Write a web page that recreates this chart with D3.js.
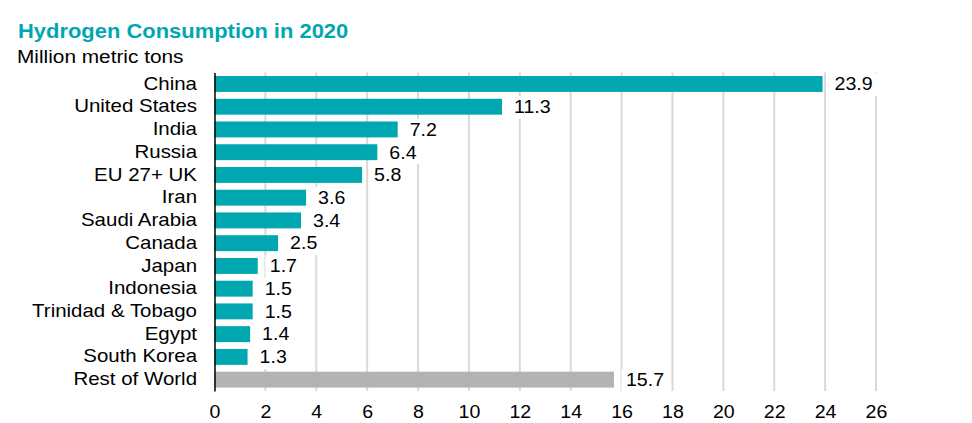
<!DOCTYPE html>
<html><head><meta charset="utf-8">
<script src="https://cdn.jsdelivr.net/npm/d3@7"></script>
<style>body{margin:0;background:#fff}svg{display:block;font-family:"Liberation Sans",Arial,sans-serif}</style>
</head><body>
<script>
const categories = ["China","United States","India","Russia","EU 27+ UK","Iran","Saudi Arabia","Canada","Japan","Indonesia","Trinidad & Tobago","Egypt","South Korea","Rest of World"];
const values = [23.9,11.3,7.2,6.4,5.8,3.6,3.4,2.5,1.7,1.5,1.5,1.4,1.3,15.7];
const tickValues = [0,2,4,6,8,10,12,14,16,18,20,22,24,26];
const title = "Hydrogen Consumption in 2020";
const subtitle = "Million metric tons";

const W=972,H=423;
const FS=17.5, SX=1.17, SXN=1.12;
const svg=d3.select("body").append("svg").attr("width",W).attr("height",H);
const x=d3.scaleLinear().domain([0,26]).range([214.5,876]);
const y=d3.scaleBand().domain(categories).range([72.6,391]).paddingInner(0.3).paddingOuter(0.15);

svg.append("text").attr("transform","translate(18,37.5) scale(1.125,1)").attr("fill","#00a7b1").attr("font-weight","bold").attr("font-size",19.5).text(title);
svg.append("text").attr("transform",`translate(17,62.5) scale(1.19,1)`).attr("fill","#000").attr("font-size",17.5).text(subtitle);

// gridlines
svg.append("g").selectAll("line").data(tickValues.filter(d=>d>0)).join("line")
 .attr("x1",d=>x(d)).attr("x2",d=>x(d)).attr("y1",72.6).attr("y2",391)
 .attr("stroke","#d9d9d9").attr("stroke-width",2);

// bars
svg.append("g").selectAll("rect").data(categories).join("rect")
 .attr("x",x(0)).attr("y",d=>y(d)).attr("height",y.bandwidth())
 .attr("width",(d,i)=>x(values[i])-x(0))
 .attr("fill",d=>d==="Rest of World"?"#b3b3b3":"#00a7b1");

// value labels with white background
const lg=svg.append("g").selectAll("g").data(categories).join("g")
 .attr("transform",(d,i)=>`translate(${x(values[i])+12},${y(d)+y.bandwidth()/2}) scale(${SXN},1)`);
lg.append("text").attr("dy","0.36em").attr("font-size",FS).attr("fill","#000")
 .text((d,i)=>values[i].toFixed(1));
lg.each(function(){const g=d3.select(this);const b=g.select("text").node().getBBox();
 g.insert("rect","text").attr("x",b.x-4).attr("y",b.y-1).attr("width",b.width+8).attr("height",b.height+3).attr("fill","#fff");});

// category axis
const ya=svg.append("g").attr("transform",`translate(${x(0)},0)`).call(d3.axisLeft(y).tickSize(0).tickPadding(17.5));
ya.select(".domain").attr("stroke","#000").attr("stroke-width",1.5);
ya.selectAll("text").attr("font-size",FS).attr("fill","#000").attr("font-family","Liberation Sans, Arial, sans-serif")
 .attr("x",-17.5/SX).attr("transform",`scale(${SX},1)`);

// x axis
const xa=svg.append("g").attr("transform",`translate(0,391)`).call(d3.axisBottom(x).tickValues(tickValues).tickSize(0).tickPadding(15).tickFormat(d3.format("d")));
xa.select(".domain").remove();
xa.selectAll("text").attr("font-size",FS).attr("fill","#000").attr("font-family","Liberation Sans, Arial, sans-serif")
 .attr("transform",`scale(${SXN},1)`);
</script>
</body></html>
